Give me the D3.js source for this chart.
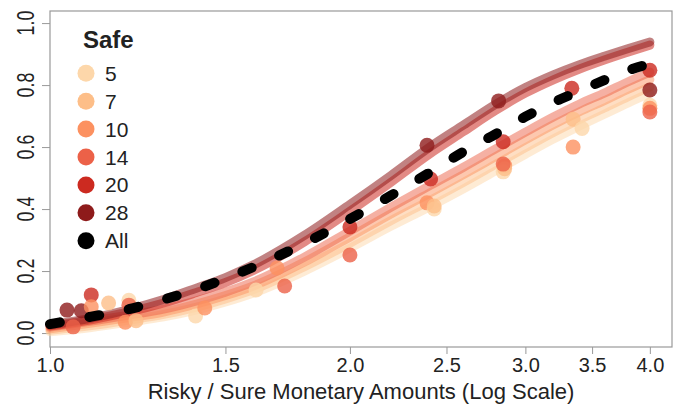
<!DOCTYPE html>
<html>
<head>
<meta charset="utf-8">
<script src="https://cdn.jsdelivr.net/npm/d3@7"></script>
<style>
  body { margin: 0; background: #fff; }
  text { font-family: "Liberation Sans", Arial, sans-serif; fill: #222; }
</style>
</head>
<body>
<div id="chart"></div>
<script>
// ---- data ----
var safeLevels = ["5", "7", "10", "14", "20", "28"];
var safeColors = ["#FDD7AA", "#FDBE88", "#FC9160", "#EC6148", "#CC2A20", "#8E1B1B"];

// fitted curves, sampled at these ratios
var curveX = [1.0, 1.1, 1.2, 1.3, 1.4, 1.5, 1.6, 1.8, 2.0, 2.2, 2.4, 2.6, 2.8, 3.0, 3.2, 3.4, 3.6, 3.8, 4.0];
var fit5  = [0.004, 0.018, 0.035, 0.052, 0.074, 0.100, 0.129, 0.200, 0.274, 0.345, 0.406, 0.465, 0.523, 0.577, 0.626, 0.668, 0.706, 0.742, 0.774];
var fit7  = [0.009, 0.024, 0.042, 0.060, 0.083, 0.110, 0.140, 0.214, 0.290, 0.363, 0.426, 0.486, 0.544, 0.598, 0.647, 0.689, 0.726, 0.762, 0.794];
var fit10 = [0.014, 0.032, 0.050, 0.068, 0.093, 0.121, 0.152, 0.229, 0.310, 0.385, 0.450, 0.511, 0.569, 0.623, 0.672, 0.714, 0.750, 0.786, 0.818];
var fit14 = [0.019, 0.039, 0.058, 0.077, 0.103, 0.132, 0.165, 0.245, 0.329, 0.406, 0.474, 0.535, 0.594, 0.648, 0.697, 0.739, 0.774, 0.810, 0.842];
var fit20 = [0.023, 0.043, 0.068, 0.097, 0.130, 0.163, 0.202, 0.294, 0.393, 0.487, 0.576, 0.650, 0.718, 0.774, 0.817, 0.852, 0.881, 0.906, 0.929];
var fit28 = [0.026, 0.048, 0.076, 0.108, 0.144, 0.179, 0.220, 0.315, 0.415, 0.509, 0.598, 0.671, 0.738, 0.792, 0.833, 0.866, 0.893, 0.917, 0.939];
var fitAll = [0.029, 0.053, 0.077, 0.108, 0.140, 0.176, 0.213, 0.289, 0.368, 0.444, 0.516, 0.585, 0.642, 0.698, 0.744, 0.781, 0.816, 0.847, 0.869];

// observed choice proportions
var pointRatio = [1.04, 1.075, 1.10, 1.10, 1.145, 1.20, 1.20, 1.055, 1.19, 1.22,
                  1.40, 1.43, 1.61, 1.69, 1.72,
                  2.0, 2.0,
                  2.39, 2.41, 2.39, 2.43, 2.43,
                  2.82, 2.85, 2.86, 2.85, 2.86, 2.85,
                  3.34, 3.35, 3.42, 3.35,
                  4.0, 4.0, 4.0, 4.0, 4.0];
var pointProb  = [0.074, 0.072, 0.123, 0.085, 0.097, 0.106, 0.090, 0.020, 0.035, 0.040,
                  0.055, 0.081, 0.139, 0.210, 0.152,
                  0.342, 0.252,
                  0.606, 0.497, 0.420, 0.400, 0.410,
                  0.749, 0.617, 0.540, 0.520, 0.530, 0.545,
                  0.790, 0.690, 0.660, 0.600,
                  0.848, 0.784, 0.735, 0.725, 0.713];
var pointSafe  = ["28", "28", "20", "10", "7", "5", "14", "14", "10", "7",
                  "5", "10", "5", "10", "14",
                  "20", "14",
                  "28", "20", "10", "5", "7",
                  "28", "20", "10", "5", "7", "14",
                  "20", "7", "5", "10",
                  "20", "28", "5", "10", "14"];

var xTicks = [1.0, 1.5, 2.0, 2.5, 3.0, 3.5, 4.0];
var yTicks = [0.0, 0.2, 0.4, 0.6, 0.8, 1.0];

// ---- svg area ----
var svgWidth = 677;
var svgHeight = 405;
var plot = { left: 50, right: 672, top: 11, bottom: 347 };

var svg = d3.select("#chart")
  .append("svg")
  .attr("width", svgWidth)
  .attr("height", svgHeight);

var x = d3.scaleLog()
  .domain([1, 4.21])
  .range([plot.left, plot.right]);

var y = d3.scaleLinear()
  .domain([-0.045, 1.039])
  .range([plot.bottom, plot.top]);

var color = d3.scaleOrdinal().domain(safeLevels).range(safeColors);

// ---- axes ----
var xAxis = d3.axisBottom(x)
  .tickValues(xTicks)
  .tickFormat(d3.format(".1f"))
  .tickSize(7)
  .tickPadding(4);

var yAxis = d3.axisLeft(y)
  .tickValues(yTicks)
  .tickFormat(d3.format(".1f"))
  .tickSize(8);

var gx = svg.append("g")
  .attr("transform", `translate(0, ${plot.bottom})`)
  .call(xAxis);
gx.select(".domain").remove();
gx.selectAll("line").attr("stroke", "#999");
gx.selectAll("text")
  .attr("font-size", 20)
  .attr("fill", "#222")
  .attr("font-family", "Liberation Sans, Arial, sans-serif");

var gy = svg.append("g")
  .attr("transform", `translate(${plot.left}, 0)`)
  .call(yAxis);
gy.select(".domain").remove();
gy.selectAll("line").attr("stroke", "#999");
gy.selectAll("text").remove();

// rotated y tick labels (parallel to axis)
svg.selectAll(".ylab")
  .data(yTicks)
  .enter()
  .append("text")
  .attr("class", "ylab")
  .attr("transform", d => `translate(34, ${y(d)}) rotate(-90) scale(0.74, 1)`)
  .attr("text-anchor", "middle")
  .attr("font-size", 24)
  .text(d => d3.format(".1f")(d));

// plot box
svg.append("rect")
  .attr("x", plot.left)
  .attr("y", plot.top)
  .attr("width", plot.right - plot.left)
  .attr("height", plot.bottom - plot.top)
  .attr("fill", "none")
  .attr("stroke", "#999")
  .attr("stroke-width", 1.2);

// x axis title
svg.append("text")
  .attr("x", (plot.left + plot.right) / 2)
  .attr("y", 399)
  .attr("text-anchor", "middle")
  .attr("font-size", 22)
  .text("Risky / Sure Monetary Amounts (Log Scale)");

// ---- fitted curves ----
var fits = [fit5, fit7, fit10, fit14, fit20, fit28];
var line = d3.line()
  .x(d => x(d[0]))
  .y(d => y(d[1]))
  .curve(d3.curveMonotoneX);

fits.forEach(function(fit, i) {
  svg.append("path")
    .datum(curveX.map((cx, j) => [cx, fit[j]]))
    .attr("d", line)
    .attr("fill", "none")
    .attr("stroke", safeColors[i])
    .attr("stroke-opacity", i >= 4 ? 0.55 : 0.5)
    .attr("stroke-width", 9)
    .attr("stroke-linecap", "round");
});

// ---- points ----
svg.selectAll(".pt")
  .data(pointRatio.map((r, i) => ({ r: r, p: pointProb[i], s: pointSafe[i] })))
  .enter()
  .append("circle")
  .attr("class", "pt")
  .attr("cx", d => x(d.r))
  .attr("cy", d => y(d.p))
  .attr("r", 7.5)
  .attr("fill", d => color(d.s))
  .attr("fill-opacity", 0.8);

// ---- pooled fit, dashed ----
svg.append("path")
  .datum(curveX.map((cx, j) => [cx, fitAll[j]]))
  .attr("d", line)
  .attr("fill", "none")
  .attr("stroke", "#000")
  .attr("stroke-width", 10)
  .attr("stroke-linecap", "round")
  .attr("stroke-dasharray", "10 30");

// ---- legend ----
svg.append("text")
  .attr("x", 83)
  .attr("y", 48)
  .attr("font-size", 24)
  .attr("font-weight", "bold")
  .attr("fill", "#000")
  .text("Safe");

var legendLabels = safeLevels.concat(["All"]);
var legendColors = safeColors.concat(["#000"]);

var legend = svg.selectAll(".leg")
  .data(legendLabels)
  .enter()
  .append("g")
  .attr("class", "leg")
  .attr("transform", (d, i) => `translate(86, ${73.3 + i * 27.9})`);

legend.append("circle")
  .attr("r", 8.5)
  .attr("fill", (d, i) => legendColors[i]);

legend.append("text")
  .attr("x", 19)
  .attr("y", 7.5)
  .attr("font-size", 21)
  .text(d => d);
</script>
</body>
</html>
